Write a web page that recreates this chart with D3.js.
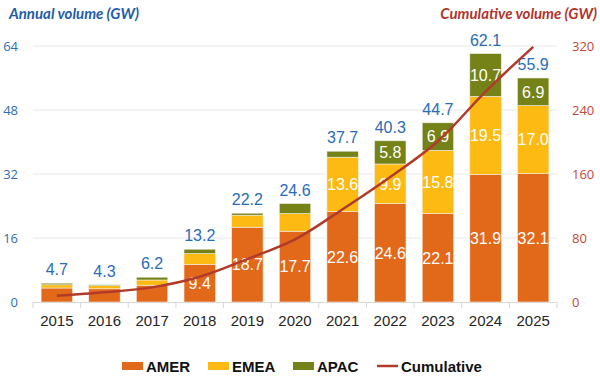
<!DOCTYPE html>
<html><head><meta charset="utf-8">
<script src="https://cdn.jsdelivr.net/npm/d3@7"></script>
<style>body{margin:0;background:#fff}svg{display:block}</style>
</head><body><svg id="c" width="600" height="379"></svg>
<script>
const years = ["2015","2016","2017","2018","2019","2020","2021","2022","2023","2024","2025"];
const amer = [3.5, 3.3, 4.2, 9.4, 18.7, 17.7, 22.6, 24.6, 22.1, 31.9, 32.1];
const emea = [0.8, 0.8, 1.3, 2.7, 3.0, 4.4, 13.6, 9.9, 15.8, 19.5, 17.0];
const apac = [0.4, 0.2, 0.7, 1.1, 0.5, 2.5, 1.5, 5.8, 6.9, 10.7, 6.9];
const totals = [4.7, 4.3, 6.2, 13.2, 22.2, 24.6, 37.7, 40.3, 44.7, 62.1, 55.9];
const cumulative = [7.8, 12.1, 18.3, 31.5, 53.7, 78.3, 116.0, 156.3, 201.0, 263.1, 319.0];
const leftTicks = [0, 16, 32, 48, 64];
const rightTicks = [0, 80, 160, 240, 320];
const seriesNames = ["AMER", "EMEA", "APAC"];
const colors = {AMER: "#E2681A", EMEA: "#FDBA12", APAC: "#748218", Cumulative: "#B23A2B"};

const svg = d3.select("#c");
const x = d3.scaleBand().domain(years).range([33, 557]).paddingInner(0.34).paddingOuter(0.17);
const y = d3.scaleLinear().domain([0, 64]).range([302, 46]);
const y2 = d3.scaleLinear().domain([0, 320]).range([302, 46]);

// gridlines
svg.append("g").selectAll("line").data(leftTicks.filter(d => d > 0)).join("line")
  .attr("x1", 33).attr("x2", 557).attr("y1", d => y(d)).attr("y2", d => y(d))
  .attr("stroke", "#E8E8E8").attr("stroke-width", 1);

// axis titles
svg.append("text").attr("x", 9).attr("y", 19).text("Annual volume (GW)")
  .attr("font-family", "Lato").attr("font-weight", "bold").attr("font-style", "italic")
  .attr("font-size", 15).attr("fill", "#1F5CA8");
svg.append("text").attr("x", 597).attr("y", 19).attr("text-anchor", "end").text("Cumulative volume (GW)")
  .attr("font-family", "Lato").attr("font-weight", "bold").attr("font-style", "italic")
  .attr("font-size", 15).attr("fill", "#B0342A");

// left ticks
svg.append("g").selectAll("text").data(leftTicks).join("text")
  .attr("x", 18).attr("y", d => y(d)).attr("dy", "0.35em").attr("text-anchor", "end")
  .attr("font-family", "Open Sans").attr("font-size", 13).attr("fill", "#2E6DB4").text(d => d);
// right ticks
svg.append("g").selectAll("text").data(rightTicks).join("text")
  .attr("x", 572).attr("y", d => y2(d)).attr("dy", "0.35em").attr("text-anchor", "start")
  .attr("font-family", "Open Sans").attr("font-size", 13).attr("fill", "#C0483C").text(d => d);

// stacked bars
const rows = years.map((yr, i) => ({year: yr, AMER: amer[i], EMEA: emea[i], APAC: apac[i]}));
const stack = d3.stack().keys(seriesNames)(rows);
const gBars = svg.append("g");
stack.forEach(layer => {
  gBars.append("g").selectAll("rect").data(layer).join("rect")
    .attr("x", d => x(d.data.year)).attr("width", x.bandwidth())
    .attr("y", d => y(d[1])).attr("height", d => y(d[0]) - y(d[1]))
    .attr("fill", colors[layer.key]).attr("stroke", "#f4efe6").attr("stroke-width", 0.6);
  gBars.append("g").selectAll("text").data(layer.filter(d => d[1] - d[0] >= 5)).join("text")
    .attr("x", d => x(d.data.year) + x.bandwidth() / 2).attr("y", d => y((d[0] + d[1]) / 2))
    .attr("dy", "0.36em").attr("text-anchor", "middle")
    .attr("font-family", "Liberation Sans").attr("font-size", 16).attr("fill", "#fff")
    .text(d => (d[1] - d[0]).toFixed(1));
});

// totals
svg.append("g").selectAll("text").data(totals).join("text")
  .attr("x", (d, i) => x(years[i]) + x.bandwidth() / 2).attr("y", d => y(d) - 8)
  .attr("text-anchor", "middle").attr("font-family", "Liberation Sans").attr("font-size", 16)
  .attr("fill", "#2A6CB6").text(d => d.toFixed(1));

// bottom axis
svg.append("line").attr("x1", 33).attr("x2", 557).attr("y1", 302.5).attr("y2", 302.5)
  .attr("stroke", "#D9D9D9");
const bounds = years.map(yr => x(yr) - x.step() * x.paddingInner() / 2).concat([557]);
svg.append("g").selectAll("line").data(bounds).join("line")
  .attr("x1", d => d).attr("x2", d => d).attr("y1", 302).attr("y2", 308).attr("stroke", "#D9D9D9");
svg.append("g").selectAll("text").data(years).join("text")
  .attr("x", d => x(d) + x.bandwidth() / 2).attr("y", 326).attr("text-anchor", "middle")
  .attr("font-family", "Liberation Sans").attr("font-size", 15).attr("fill", "#262626").text(d => d);

// cumulative line
const line = d3.line().x((d, i) => x(years[i]) + x.bandwidth() / 2).y(d => y2(d)).curve(d3.curveCatmullRom);
svg.append("path").datum(cumulative).attr("d", line).attr("fill", "none")
  .attr("stroke", colors.Cumulative).attr("stroke-width", 2.5);

// legend
const legend = [
  {name: "AMER", x: 122, type: "rect"},
  {name: "EMEA", x: 208, type: "rect"},
  {name: "APAC", x: 293, type: "rect"},
  {name: "Cumulative", x: 377, type: "line"}
];
const lg = svg.append("g");
legend.forEach(l => {
  if (l.type === "rect") {
    lg.append("rect").attr("x", l.x).attr("y", 362).attr("width", 21).attr("height", 8).attr("fill", colors[l.name]);
  } else {
    lg.append("line").attr("x1", l.x).attr("x2", l.x + 21).attr("y1", 366).attr("y2", 366)
      .attr("stroke", colors.Cumulative).attr("stroke-width", 2.5);
  }
  lg.append("text").attr("x", l.x + 24).attr("y", 371.5).text(l.name)
    .attr("font-family", "Liberation Sans").attr("font-weight", "bold").attr("font-size", 15).attr("fill", "#111");
});
</script></body></html>
